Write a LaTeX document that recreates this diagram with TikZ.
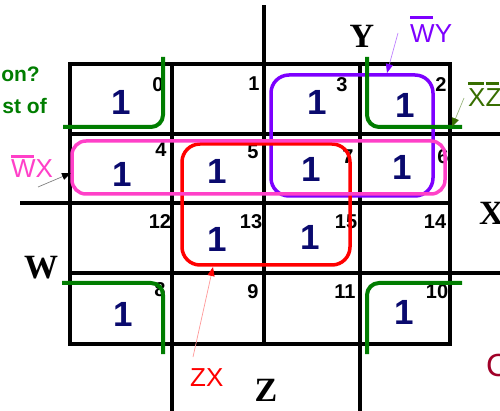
\documentclass[tikz,border=0pt]{standalone}
\usepackage{fontspec}
\setmainfont{Liberation Sans}
\newfontfamily\kmapserif{Liberation Serif}
\usetikzlibrary{arrows.meta}
\definecolor{onenavy}{RGB}{10,10,110}
\definecolor{loopgreen}{RGB}{0,125,0}
\definecolor{xzgreen}{RGB}{55,110,0}
\definecolor{wypurple}{RGB}{125,0,255}
\definecolor{wxpink}{RGB}{255,64,200}
\definecolor{cred}{RGB}{160,0,40}
% bar over a letter (complement)
\newcommand{\topbar}[2][4pt]{\setbox0\hbox{#2}\rlap{\rule[\dimexpr\ht0+#1\relax]{\dimexpr\wd0-2pt\relax}{3pt}}\box0}

\begin{document}
\begin{tikzpicture}[x=1pt, y=-1pt,
		grid/.style={line width=3.5pt, line cap=rect},
		one/.style={text=onenavy, inner sep=0pt, font=\fontsize{35}{35}\selectfont\bfseries},
		idx/.style={inner sep=0pt, font=\fontsize{20}{20}\selectfont\bfseries},
		var/.style={inner sep=0pt, font=\fontsize{34}{34}\selectfont\kmapserif\bfseries},
		grp/.style={inner sep=0pt, anchor=base west, font=\fontsize{26}{26}\selectfont},
		note/.style={inner sep=0pt, anchor=base east, text=loopgreen, font=\fontsize{21}{21}\selectfont\bfseries},
		loopline/.style={line width=3.5pt},
		corner/.style={line width=4pt, color=loopgreen, rounded corners=12pt},
		pointer/.style={line width=0.7pt, -{Triangle[length=9pt, width=7pt, #1]}}]
	\useasboundingbox (0,0) rectangle (500,411);
	% the map
	\draw[grid] (70,64) rectangle (450,344);
	\foreach \x in {172,264,360} \draw[grid] (\x,64) -- (\x,344);
	\foreach \y in {134,203,273} \draw[grid] (70,\y) -- (450,\y);
	\draw[grid] (264,7) -- (264,64); % Y
	\draw[grid] (450,134) -- (500,134) (450,273) -- (500,273); % X
	\draw[grid] (22,203) -- (70,203); % W
	\draw[grid] (172,344) -- (172,411) (360,344) -- (360,411); % Z
	\node[var] (ylab) at (362,36) {Y};
	\node[var] (wlab) at (41,268) {W};
	\node[var, anchor=west] (xlab) at (479,213) {X};
	\node[var] (zlab) at (266,390) {Z};
	% cell numbers
	\foreach \n/\x/\y in {0/158/85, 1/254/84, 3/342/85, 2/441/85,
			4/161/150, 5/253/152, 7/348/157, 6/443/157,
			12/160/222, 13/251/222, 15/346/222, 14/435/222,
			8/160/290, 9/253/292, 11/345/292, 10/437/292}
		\node[idx] (n\n) at (\x,\y) {\n};
	% minterms
	\foreach \x/\y [count=\i] in {121/102, 317/102, 405/105, 122/174, 217/171,
			311/169, 402/167, 217/239, 310/237, 123/314, 404/312}
		\node[one] (one\i) at (\x,\y) {1};
	% groups
	\draw[loopline, wypurple, rounded corners=18pt] (271,75) rectangle (433,196);
	\draw[loopline, red, rounded corners=18pt] (182,144) rectangle (350,265);
	\draw[loopline, wxpink, rounded corners=14pt] (72,141) rectangle (445,194);
	\draw[corner] (163,57) -- (163,127) -- (63,127);
	\draw[corner] (367,57) -- (367,127) -- (462,127);
	\draw[corner] (62,283) -- (163,283) -- (163,354);
	\draw[corner] (367,354) -- (367,283) -- (462,283);
	% group labels
	\node[grp, text=wxpink] (wxlab) at (11,178) {\topbar[2.5pt]{W}X};
	\node[grp, text=wypurple] (wylab) at (410,43) {\topbar[6pt]{W}Y};
	\node[grp, text=xzgreen] (xzlab) at (468,107) {\topbar[4.5pt]{X}\topbar[4.5pt]{Z}};
	\node[grp, text=red] (zxlab) at (190,386) {ZX};
	\node[grp, text=cred, font=\fontsize{32}{32}\selectfont] (clab) at (486,376) {C};
	\node[note] (q1) at (40,82) {on?};
	\node[note] (q2) at (47,114) {st of};
	\coordinate (wxtail) at (38,187); \coordinate (wxtip) at (71,173);
	\coordinate (wytail) at (398,33); \coordinate (wytip) at (387,73);
	\coordinate (xztail) at (464,98); \coordinate (xztip) at (452,127);
	\coordinate (zxtail) at (193,357); \coordinate (zxtip) at (213,267);
	\draw[pointer={color=black}, gray] (wxtail) -- (wxtip);
	\draw[pointer={color=wypurple}, wypurple!50] (wytail) -- (wytip);
	\draw[pointer={color=xzgreen}, xzgreen!50] (xztail) -- (xztip);
	\draw[pointer={color=red}, red!40] (zxtail) -- (zxtip);
\end{tikzpicture}
\end{document}
